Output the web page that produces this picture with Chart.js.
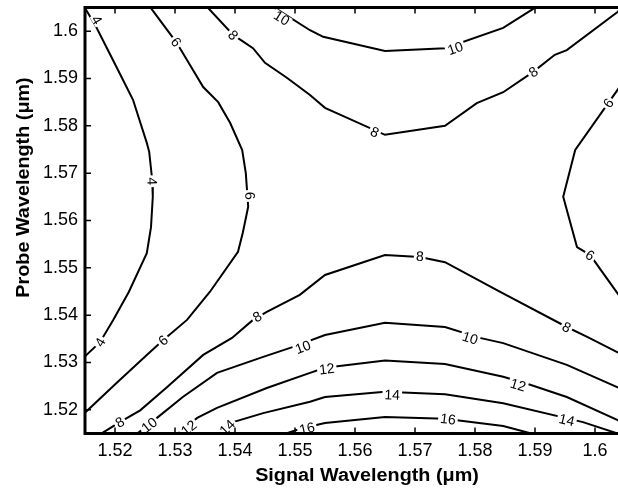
<!DOCTYPE html>
<html lang="en">
<head>
    <meta charset="UTF-8">
    <title>Probe vs Signal Wavelength contour</title>
    <script src="https://cdn.jsdelivr.net/npm/chart.js"></script>
    <style>
        html, body {
            margin: 0;
            padding: 0;
            background: #fff;
            overflow: hidden;
        }
        #wrap {
            width: 640px;
            height: 491px;
        }
    </style>
</head>
<body>
    <div id="wrap"><canvas id="contour" width="640" height="491"></canvas></div>

    <script>
        // tick values / labels (both axes in um)
        const xTicks = [1.52, 1.53, 1.54, 1.55, 1.56, 1.57, 1.58, 1.59, 1.6];
        const xTickLabels = ['1.52', '1.53', '1.54', '1.55', '1.56', '1.57', '1.58', '1.59', '1.6'];
        const yTicks = [1.52, 1.53, 1.54, 1.55, 1.56, 1.57, 1.58, 1.59, 1.6];
        const yTickLabels = ['1.52', '1.53', '1.54', '1.55', '1.56', '1.57', '1.58', '1.59', '1.6'];

        const xTitle = 'Signal Wavelength (\u03bcm)';
        const yTitle = 'Probe Wavelength (\u03bcm)';

        // contour lines (signal wavelength x, probe wavelength y)
        const c4X  = [1.5148, 1.5167, 1.5205, 1.5230, 1.5253, 1.5257, 1.5262, 1.5263, 1.5260, 1.5253, 1.5223, 1.5197, 1.5175, 1.5150];
        const c4Y  = [1.6053, 1.6013, 1.5918, 1.5855, 1.5764, 1.5745, 1.5686, 1.5650, 1.5586, 1.5531, 1.5449, 1.5390, 1.5343, 1.5313];

        const c6aX = [1.5258, 1.5302, 1.5320, 1.5347, 1.5372, 1.5392, 1.5412, 1.5418, 1.5422, 1.5413, 1.5405, 1.5358, 1.5320, 1.5280, 1.5253, 1.5203, 1.5150];
        const c6aY = [1.6052, 1.5977, 1.5939, 1.5882, 1.5850, 1.5806, 1.5749, 1.5700, 1.5629, 1.5574, 1.5534, 1.5449, 1.5390, 1.5347, 1.5316, 1.5257, 1.5194];
        const c6bX = [1.6050, 1.6022, 1.5967, 1.5947, 1.5970, 1.5992, 1.6037, 1.6050];
        const c6bY = [1.5898, 1.5848, 1.5749, 1.5650, 1.5544, 1.5527, 1.5447, 1.5426];

        const c8aX = [1.5353, 1.5397, 1.5430, 1.5450, 1.5487, 1.5525, 1.5550, 1.5650, 1.5750, 1.5803, 1.5847, 1.5897, 1.5933, 1.5953, 1.6037, 1.6047];
        const c8aY = [1.6052, 1.5992, 1.5964, 1.5933, 1.5901, 1.5865, 1.5838, 1.5781, 1.5800, 1.5848, 1.5871, 1.5914, 1.5950, 1.5960, 1.6040, 1.6052];
        const c8bX = [1.5175, 1.5208, 1.5242, 1.5287, 1.5347, 1.5395, 1.5430, 1.5453, 1.5508, 1.5550, 1.5650, 1.5708, 1.5750, 1.5842, 1.5953, 1.5987, 1.6037, 1.6050];
        const c8bY = [1.5148, 1.5174, 1.5199, 1.5248, 1.5316, 1.5352, 1.5390, 1.5407, 1.5443, 1.5485, 1.5527, 1.5523, 1.5512, 1.5449, 1.5375, 1.5354, 1.5322, 1.5314];

        const c10aX = [1.5463, 1.5525, 1.5547, 1.5650, 1.5750, 1.5847, 1.5903];
        const c10aY = [1.6052, 1.6002, 1.5988, 1.5958, 1.5964, 1.6007, 1.6052];
        const c10bX = [1.5235, 1.5270, 1.5313, 1.5370, 1.5447, 1.5497, 1.5550, 1.5650, 1.5750, 1.5808, 1.5847, 1.5953, 1.6037, 1.6050];
        const c10bY = [1.5148, 1.5183, 1.5227, 1.5278, 1.5312, 1.5333, 1.5358, 1.5384, 1.5375, 1.5352, 1.5341, 1.5295, 1.5248, 1.5240];

        const c12X = [1.5303, 1.5337, 1.5370, 1.5453, 1.5525, 1.5550, 1.5650, 1.5750, 1.5847, 1.5892, 1.5953, 1.6037, 1.6050];
        const c12Y = [1.5148, 1.5183, 1.5204, 1.5246, 1.5278, 1.5289, 1.5304, 1.5297, 1.5270, 1.5253, 1.5227, 1.5179, 1.5170];

        const c14X = [1.5376, 1.5397, 1.5447, 1.5525, 1.5550, 1.5650, 1.5750, 1.5847, 1.5980, 1.6040];
        const c14Y = [1.5148, 1.5174, 1.5193, 1.5217, 1.5227, 1.5238, 1.5233, 1.5214, 1.5174, 1.5149];

        const c16X = [1.5480, 1.5512, 1.5550, 1.5650, 1.5750, 1.5847, 1.5900];
        const c16Y = [1.5148, 1.5161, 1.5172, 1.5185, 1.5181, 1.5166, 1.5148];

        // inline contour labels
        const labelLevel = [4, 4, 4, 6, 6, 6, 6, 6, 8, 8, 8, 8, 8, 8, 8, 10, 10, 10, 10, 10, 12, 12, 12, 14, 14, 14, 16, 16];
        const labelX = [1.5170, 1.5262, 1.5175,
                        1.5302, 1.5425, 1.5280, 1.6022, 1.5992,
                        1.5397, 1.5633, 1.5897, 1.5708, 1.5953, 1.5437, 1.5208,
                        1.5478, 1.5767, 1.5513, 1.5792, 1.5257,
                        1.5553, 1.5872, 1.5323,
                        1.5662, 1.5953, 1.5387,
                        1.5520, 1.5755];
        const labelY = [1.6024, 1.5683, 1.5343,
                        1.5977, 1.5652, 1.5347, 1.5848, 1.5527,
                        1.5992, 1.5787, 1.5914, 1.5525, 1.5375, 1.5397, 1.5174,
                        1.6028, 1.5964, 1.5333, 1.5352, 1.5168,
                        1.5287, 1.5253, 1.5162,
                        1.5232, 1.5179, 1.5163,
                        1.5161, 1.5181];

        const FONT = '"Liberation Sans", Arial, Helvetica, sans-serif';

        function line(level, xs, ys) {
            return {
                level: level,
                data: xs.map((v, i) => ({ x: v, y: ys[i] })),
                showLine: true,
                borderColor: '#000',
                borderWidth: 2,
                pointRadius: 0,
                tension: 0,
                fill: false
            };
        }

        function segDist(px, py, a, b) {
            const dx = b[0] - a[0], dy = b[1] - a[1];
            const len = dx * dx + dy * dy;
            let t = len ? ((px - a[0]) * dx + (py - a[1]) * dy) / len : 0;
            t = Math.max(0, Math.min(1, t));
            const qx = a[0] + t * dx - px, qy = a[1] + t * dy - py;
            return Math.sqrt(qx * qx + qy * qy);
        }

        // labels drawn along the contour, with a white gap like clabel
        const contourLabels = {
            id: 'contourLabels',
            afterDatasetsDraw(chart) {
                const { ctx, chartArea: a, scales: { x, y } } = chart;
                ctx.save();
                ctx.beginPath();
                ctx.rect(a.left, a.top, a.right - a.left, a.bottom - a.top);
                ctx.clip();
                ctx.font = '14px ' + FONT;
                ctx.textAlign = 'center';
                ctx.textBaseline = 'middle';
                labelLevel.forEach((lv, i) => {
                    const px = x.getPixelForValue(labelX[i]);
                    const py = y.getPixelForValue(labelY[i]);
                    let best = Infinity, ang = 0;
                    chart.data.datasets.forEach(ds => {
                        if (ds.level !== lv) return;
                        const pts = ds.data.map(p => [x.getPixelForValue(p.x), y.getPixelForValue(p.y)]);
                        for (let k = 0; k < pts.length - 1; k++) {
                            const d = segDist(px, py, pts[k], pts[k + 1]);
                            if (d < best) {
                                best = d;
                                ang = Math.atan2(pts[k + 1][1] - pts[k][1], pts[k + 1][0] - pts[k][0]);
                            }
                        }
                    });
                    if (ang > Math.PI / 2) ang -= Math.PI;
                    if (ang < -Math.PI / 2) ang += Math.PI;
                    const txt = String(lv);
                    const w = ctx.measureText(txt).width;
                    ctx.save();
                    ctx.translate(px, py);
                    ctx.rotate(ang);
                    ctx.fillStyle = '#fff';
                    ctx.fillRect(-w / 2 - 2, -5, w + 4, 10);
                    ctx.fillStyle = '#000';
                    ctx.fillText(txt, 0, 1);
                    ctx.restore();
                });
                ctx.restore();
            }
        };

        // matlab style box with inward ticks, plus the two (slightly wide) axis titles
        const axesBox = {
            id: 'axesBox',
            afterDraw(chart) {
                const { ctx, chartArea: a, scales: { x, y } } = chart;
                ctx.save();
                ctx.strokeStyle = '#000';
                ctx.lineWidth = 1.5;
                ctx.beginPath();
                xTicks.forEach(v => {
                    const px = x.getPixelForValue(v);
                    ctx.moveTo(px, a.bottom); ctx.lineTo(px, a.bottom - 6);
                    ctx.moveTo(px, a.top); ctx.lineTo(px, a.top + 6);
                });
                yTicks.forEach(v => {
                    const py = y.getPixelForValue(v);
                    ctx.moveTo(a.left, py); ctx.lineTo(a.left + 6, py);
                    ctx.moveTo(a.right, py); ctx.lineTo(a.right - 6, py);
                });
                ctx.stroke();
                ctx.lineWidth = 3;
                ctx.strokeRect(a.left, a.top, a.right - a.left, a.bottom - a.top);

                ctx.fillStyle = '#000';
                ctx.font = 'bold 18px ' + FONT;
                ctx.textAlign = 'center';
                ctx.textBaseline = 'alphabetic';
                // x title
                ctx.save();
                ctx.translate((a.left + a.right) / 2 + 12, a.bottom + 47.5);
                ctx.scale(1.1, 1);
                ctx.fillText(xTitle, 0, 0);
                ctx.restore();
                // y title
                ctx.save();
                ctx.translate(28.5, (a.top + a.bottom) / 2 - 33);
                ctx.rotate(-Math.PI / 2);
                ctx.scale(1.1, 1);
                ctx.fillText(yTitle, 0, 0);
                ctx.restore();
                ctx.restore();
            }
        };

        new Chart(document.getElementById('contour'), {
            type: 'scatter',
            data: {
                datasets: [
                    line(4, c4X, c4Y),
                    line(6, c6aX, c6aY),
                    line(6, c6bX, c6bY),
                    line(8, c8aX, c8aY),
                    line(8, c8bX, c8bY),
                    line(10, c10aX, c10aY),
                    line(10, c10bX, c10bY),
                    line(12, c12X, c12Y),
                    line(14, c14X, c14Y),
                    line(16, c16X, c16Y)
                ]
            },
            options: {
                responsive: false,
                animation: false,
                layout: { padding: { top: 7.5, right: 15, left: 0, bottom: 0 } },
                plugins: {
                    legend: { display: false },
                    tooltip: { enabled: false }
                },
                scales: {
                    x: {
                        type: 'linear',
                        min: 1.515,
                        max: 1.605,
                        afterBuildTicks: s => { s.ticks = xTicks.map(v => ({ value: v })); },
                        afterFit: s => {
                            s.height = 57.5;
                            s.paddingLeft = 0;
                            s.paddingRight = 0;
                        },
                        grid: { display: false, drawTicks: false },
                        border: { display: false },
                        ticks: {
                            autoSkip: false,
                            maxRotation: 0,
                            padding: 7,
                            color: '#000',
                            font: { family: FONT, size: 18 },
                            callback: (v, i) => xTickLabels[i]
                        }
                    },
                    y: {
                        type: 'linear',
                        min: 1.515,
                        max: 1.605,
                        afterBuildTicks: s => { s.ticks = yTicks.map(v => ({ value: v })); },
                        afterFit: s => {
                            s.width = 85;
                            s.paddingTop = 0;
                            s.paddingBottom = 0;
                        },
                        grid: { display: false, drawTicks: false },
                        border: { display: false },
                        ticks: {
                            autoSkip: false,
                            padding: 7,
                            color: '#000',
                            font: { family: FONT, size: 18 },
                            callback: (v, i) => yTickLabels[i]
                        }
                    }
                }
            },
            plugins: [contourLabels, axesBox]
        });
    </script>
</body>
</html>
